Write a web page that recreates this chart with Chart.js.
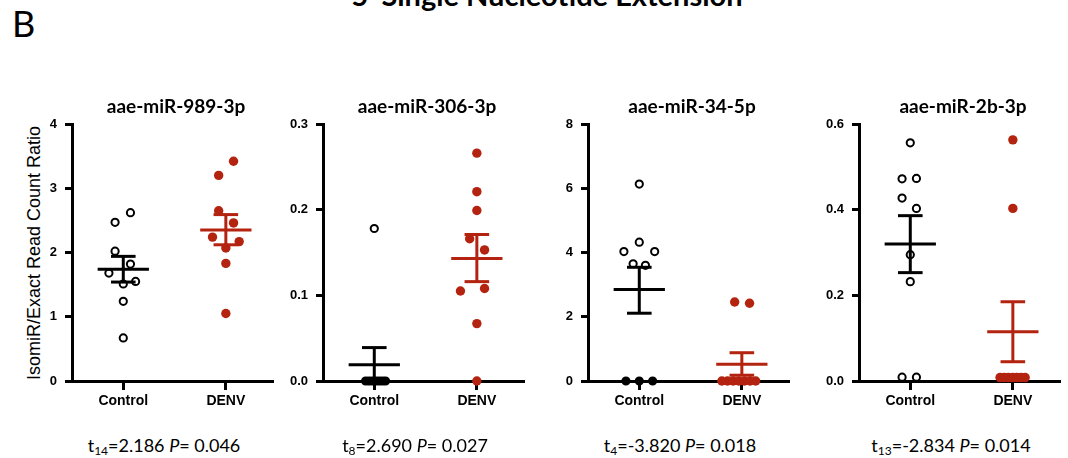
<!DOCTYPE html>
<html>
<head>
<meta charset="utf-8">
<script src="https://cdn.jsdelivr.net/npm/chart.js@4.4.1/dist/chart.umd.min.js"></script>
<style>
  body { margin: 0; background: #fff; }
  #page { position: relative; width: 1068px; height: 458px; overflow: hidden; background: #fff; }
  .txt { position: absolute; white-space: nowrap; color: #000; }
  .main { font-family: Lato, sans-serif; font-weight: bold; font-size: 29px; line-height: 29px; transform: translateX(-50%); }
  .letter { font-family: Lato, sans-serif; font-size: 36px; line-height: 36px; }
  .ptitle { font-family: Lato, sans-serif; font-weight: bold; font-size: 19px; line-height: 19px; transform: translateX(-50%); }
  .stat { font-family: Lato, sans-serif; font-size: 18px; line-height: 18px; transform: translateX(-50%); }
  .stat sub { font-size: 12px; vertical-align: -3px; }
  .ylab { font-family: "Liberation Sans", Arial, sans-serif; font-size: 18px; line-height: 18px; transform: translate(-50%, -50%) rotate(-90deg); }
  canvas { position: absolute; }
</style>
</head>
<body>
<div id="page">
  <div class="txt main" style="left:547px; top:-20px;">5' Single Nucleotide Extension</div>
  <div class="txt letter" style="left:12px; top:5px;">B</div>
  <div class="txt ylab" style="left:34px; top:253px;">IsomiR/Exact Read Count Ratio</div>
</div>
<script>
const categories = ["Control", "DENV"];
const panelTitles = ["aae-miR-989-3p", "aae-miR-306-3p", "aae-miR-34-5p", "aae-miR-2b-3p"];
const statDf = ["14", "8", "4", "13"];
const statT = ["2.186", "2.690", "-3.820", "-2.834"];
const statP = ["0.046", "0.027", "0.018", "0.014"];
const yMax = [4, 0.3, 8, 0.6];
const yStep = [1, 0.1, 2, 0.2];
const yDecimals = [0, 1, 0, 1];

// individual points (value) and horizontal scatter offset within the group
const miR989Control = [2.62, 2.47, 2.02, 1.82, 1.68, 1.55, 1.51, 1.24, 0.67];
const miR989ControlJitter = [0.07, -0.08, -0.08, 0.07, -0.14, 0.12, 0, 0, 0];
const miR989Denv = [3.42, 3.20, 2.65, 2.46, 2.24, 2.17, 2.07, 1.83, 1.05];
const miR989DenvJitter = [0.075, -0.07, -0.07, 0.075, -0.13, 0.13, 0, 0, 0];

const miR306Control = [0.178, 0, 0, 0, 0, 0, 0, 0, 0];
const miR306ControlJitter = [0, -0.085, -0.057, -0.029, 0, 0.028, 0.056, 0.084, 0.11];
const miR306Denv = [0.266, 0.221, 0.199, 0.166, 0.153, 0.108, 0.105, 0.067, 0];
const miR306DenvJitter = [0, 0, 0, -0.07, 0.075, 0.075, -0.16, 0, 0];

const miR34Control = [6.13, 4.32, 4.03, 4.03, 3.65, 3.60, 0, 0, 0];
const miR34ControlJitter = [0, 0, -0.15, 0.15, -0.06, 0.06, -0.13, 0, 0.13];
const miR34Denv = [2.46, 2.42, 0, 0, 0, 0, 0, 0, 0];
const miR34DenvJitter = [-0.07, 0.075, -0.195, -0.14, -0.085, -0.03, 0.025, 0.08, 0.135];

const miR2bControl = [0.556, 0.472, 0.473, 0.427, 0.403, 0.295, 0.232, 0.009, 0.009];
const miR2bControlJitter = [0, -0.08, 0.06, -0.08, 0.06, 0, 0, -0.08, 0.06];
const miR2bDenv = [0.563, 0.403, 0.008, 0.008, 0.008, 0.008, 0.008, 0.008, 0.008];
const miR2bDenvJitter = [0, 0, -0.125, -0.084, -0.043, 0, 0.04, 0.08, 0.12];

// mean and SEM bounds [Control, DENV]
const miR989Mean = [1.74, 2.35], miR989Hi = [1.94, 2.59], miR989Lo = [1.54, 2.12];
const miR306Mean = [0.019, 0.143], miR306Hi = [0.039, 0.171], miR306Lo = [0, 0.116];
const miR34Mean = [2.85, 0.52], miR34Hi = [3.54, 0.88], miR34Lo = [2.11, 0.18];
const miR2bMean = [0.32, 0.115], miR2bHi = [0.386, 0.185], miR2bLo = [0.253, 0.045];

const panels = [
  { ctrl: miR989Control, ctrlJ: miR989ControlJitter, denv: miR989Denv, denvJ: miR989DenvJitter, mean: miR989Mean, hi: miR989Hi, lo: miR989Lo },
  { ctrl: miR306Control, ctrlJ: miR306ControlJitter, denv: miR306Denv, denvJ: miR306DenvJitter, mean: miR306Mean, hi: miR306Hi, lo: miR306Lo },
  { ctrl: miR34Control, ctrlJ: miR34ControlJitter, denv: miR34Denv, denvJ: miR34DenvJitter, mean: miR34Mean, hi: miR34Hi, lo: miR34Lo },
  { ctrl: miR2bControl, ctrlJ: miR2bControlJitter, denv: miR2bDenv, denvJ: miR2bDenvJitter, mean: miR2bMean, hi: miR2bHi, lo: miR2bLo }
];

const axisX = [72, 323, 588, 859];
const RED = "#b3230f";
const groupColors = ["#000000", RED];
const page = document.getElementById("page");

function segment(points, color) {
  return {
    data: points, showLine: true, borderColor: color, borderWidth: 3,
    pointRadius: 0, clip: false, borderCapStyle: "butt"
  };
}

panels.forEach((p, i) => {
  const canvas = document.createElement("canvas");
  canvas.width = 260;
  canvas.height = 330;
  canvas.style.left = (axisX[i] - 50) + "px";
  canvas.style.top = "90px";
  canvas.style.width = "260px";
  canvas.style.height = "330px";
  page.appendChild(canvas);

  const title = document.createElement("div");
  title.className = "txt ptitle";
  title.style.left = (axisX[i] + 104) + "px";
  title.style.top = "96px";
  title.textContent = panelTitles[i];
  page.appendChild(title);

  const stat = document.createElement("div");
  stat.className = "txt stat";
  stat.style.left = (axisX[i] + 92) + "px";
  stat.style.top = "436px";
  stat.innerHTML = `t<sub>${statDf[i]}</sub>=${statT[i]} <i>P</i>= ${statP[i]}`;
  page.appendChild(stat);

  const datasets = [];
  // error bars first so they are drawn on top
  [0, 1].forEach(g => {
    const c = groupColors[g];
    datasets.push(segment([{ x: g - 0.25, y: p.mean[g] }, { x: g + 0.25, y: p.mean[g] }], c));
    datasets.push(segment([{ x: g, y: p.lo[g] }, { x: g, y: p.hi[g] }], c));
    datasets.push(segment([{ x: g - 0.12, y: p.hi[g] }, { x: g + 0.12, y: p.hi[g] }], c));
    if (p.lo[g] > 0) datasets.push(segment([{ x: g - 0.12, y: p.lo[g] }, { x: g + 0.12, y: p.lo[g] }], c));
  });
  datasets.push({
    data: p.ctrl.map((v, k) => ({ x: p.ctrlJ[k], y: v })),
    pointRadius: 3.6, borderWidth: 2, borderColor: "#000",
    backgroundColor: ctx => (ctx.raw && ctx.raw.y === 0 ? "#000" : "#fff"),
    clip: false
  });
  datasets.push({
    data: p.denv.map((v, k) => ({ x: 1 + p.denvJ[k], y: v })),
    pointRadius: 4.7, borderWidth: 0, backgroundColor: RED, clip: false
  });

  new Chart(canvas, {
    type: "scatter",
    data: { datasets },
    options: {
      responsive: false,
      animation: false,
      events: [],
      layout: { padding: { top: 34, right: 10, left: 0, bottom: 0 } },
      plugins: { legend: { display: false }, tooltip: { enabled: false } },
      scales: {
        x: {
          type: "linear", min: -0.5, max: 1.45, z: 1,
          afterBuildTicks: s => { s.ticks = [{ value: 0 }, { value: 1 }]; },
          afterFit: s => { s.height = 39; },
          border: { color: "#000", width: 3 },
          grid: { drawOnChartArea: false, color: "#000", lineWidth: 3, tickLength: 9 },
          ticks: {
            color: "#000", padding: 3, maxRotation: 0,
            font: { family: "'Liberation Sans', Arial, sans-serif", size: 14, weight: "bold" },
            callback: v => categories[v]
          }
        },
        y: {
          min: 0, max: yMax[i], z: 1,
          afterFit: s => { s.width = 50; },
          border: { color: "#000", width: 3 },
          grid: { drawOnChartArea: false, color: "#000", lineWidth: 3, tickLength: 7 },
          ticks: {
            stepSize: yStep[i], color: "#000", padding: 8,
            font: { family: "'Liberation Sans', Arial, sans-serif", size: 13, weight: "bold" },
            callback: v => v.toFixed(yDecimals[i])
          }
        }
      }
    }
  });
});
</script>
</body>
</html>
